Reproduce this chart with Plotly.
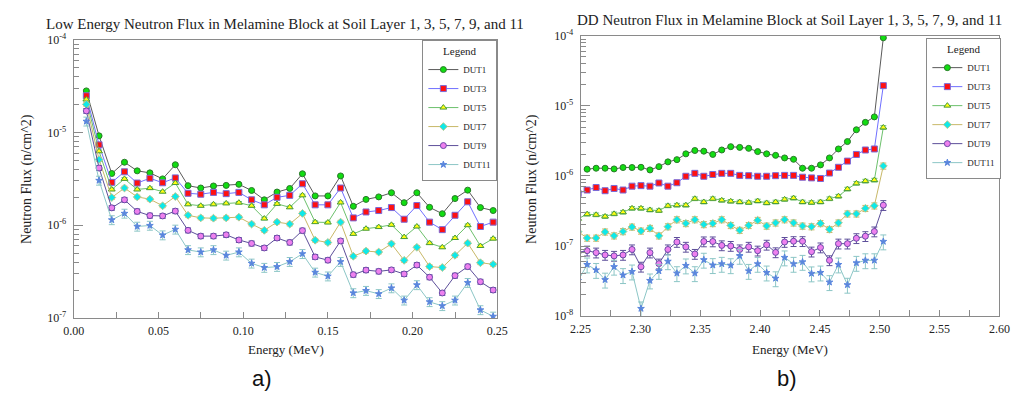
import plotly.graph_objects as go

# ---------------- data ----------------
series_names = ["DUT1", "DUT3", "DUT5", "DUT7", "DUT9", "DUT11"]

low_energy = [0.0075, 0.015, 0.0225, 0.03, 0.0375, 0.045, 0.0525, 0.06, 0.0675, 0.075,
              0.0825, 0.09, 0.0975, 0.105, 0.1125, 0.12, 0.1275, 0.135, 0.1425, 0.15,
              0.1575, 0.165, 0.1725, 0.18, 0.1875, 0.195, 0.2025, 0.21, 0.2175, 0.225,
              0.2325, 0.24, 0.2475]

low_dut1 = [2.81e-5, 9.2e-6, 3.61e-6, 4.78e-6, 3.86e-6, 3.67e-6, 3.16e-6, 4.49e-6, 2.67e-6, 2.52e-6,
            2.65e-6, 2.69e-6, 2.76e-6, 2.37e-6, 1.88e-6, 2.28e-6, 2.49e-6, 3.59e-6, 2.07e-6, 2.07e-6,
            3.40e-6, 1.60e-6, 1.90e-6, 2.02e-6, 2.24e-6, 1.75e-6, 2.24e-6, 1.56e-6, 1.33e-6, 1.94e-6,
            2.39e-6, 1.55e-6, 1.44e-6]
low_dut3 = [2.49e-5, 7.36e-6, 2.90e-6, 3.77e-6, 2.85e-6, 3.21e-6, 2.87e-6, 3.24e-6, 2.21e-6, 2.16e-6,
            2.26e-6, 2.19e-6, 2.26e-6, 1.88e-6, 1.66e-6, 2.00e-6, 2.10e-6, 2.80e-6, 1.66e-6, 1.66e-6,
            2.52e-6, 1.20e-6, 1.39e-6, 1.44e-6, 1.55e-6, 1.16e-6, 1.63e-6, 1.08e-6, 8.96e-7, 1.28e-6,
            1.79e-6, 9.69e-7, 1.08e-6]
low_dut5 = [2.27e-5, 6.27e-6, 2.43e-6, 3.16e-6, 2.43e-6, 2.51e-6, 2.30e-6, 2.85e-6, 1.68e-6, 1.62e-6,
            1.68e-6, 1.72e-6, 1.75e-6, 1.62e-6, 1.18e-6, 1.70e-6, 1.56e-6, 2.10e-6, 1.08e-6, 1.07e-6,
            1.76e-6, 8.07e-7, 9.18e-7, 9.55e-7, 1.01e-6, 7.45e-7, 9.69e-7, 6.41e-7, 5.78e-7, 7.28e-7,
            1.00e-6, 5.97e-7, 7.17e-7]
low_dut7 = [2.01e-5, 5.11e-6, 1.99e-6, 2.52e-6, 2.02e-6, 1.91e-6, 1.62e-6, 2.04e-6, 1.28e-6, 1.20e-6,
            1.19e-6, 1.20e-6, 1.22e-6, 1.03e-6, 8.81e-7, 1.08e-6, 1.03e-6, 1.34e-6, 6.89e-7, 6.51e-7,
            1.08e-6, 4.63e-7, 5.26e-7, 5.14e-7, 6.30e-7, 4.18e-7, 5.78e-7, 3.58e-7, 3.50e-7, 4.74e-7,
            6.41e-7, 3.94e-7, 3.79e-7]
low_dut9 = [1.71e-5, 4.14e-6, 1.54e-6, 1.88e-6, 1.41e-6, 1.27e-6, 1.26e-6, 1.42e-6, 8.81e-7, 7.63e-7,
            7.63e-7, 7.88e-7, 6.93e-7, 6.36e-7, 5.69e-7, 7.28e-7, 6.52e-7, 8.75e-7, 4.55e-7, 4.20e-7,
            6.77e-7, 2.93e-7, 3.28e-7, 3.18e-7, 3.30e-7, 2.98e-7, 3.72e-7, 2.75e-7, 1.86e-7, 2.86e-7,
            3.58e-7, 2.46e-7, 2.00e-7]
low_dut11 = [1.32e-5, 3.04e-6, 1.14e-6, 1.34e-6, 9.70e-7, 9.93e-7, 7.82e-7, 9.02e-7, 5.42e-7, 5.13e-7,
             5.42e-7, 4.73e-7, 5.13e-7, 3.88e-7, 3.49e-7, 3.57e-7, 4.04e-7, 4.92e-7, 3.10e-7, 2.82e-7,
             4.04e-7, 1.86e-7, 1.97e-7, 1.82e-7, 2.10e-7, 1.55e-7, 2.27e-7, 1.49e-7, 1.35e-7, 1.55e-7,
             2.40e-7, 1.22e-7, 1.04e-7]

dd_energy = [2.2480, 2.2555, 2.2630, 2.2705, 2.2780, 2.2855, 2.2930, 2.3005, 2.3080, 2.3155,
             2.3230, 2.3305, 2.3380, 2.3455, 2.3530, 2.3605, 2.3680, 2.3755, 2.3830, 2.3905,
             2.3980, 2.4055, 2.4130, 2.4205, 2.4280, 2.4355, 2.4430, 2.4505, 2.4580, 2.4655,
             2.4730, 2.4805, 2.4880, 2.4955, 2.5030]

dd_dut1 = [None, 1.25e-6, 1.29e-6, 1.29e-6, 1.26e-6, 1.32e-6, 1.32e-6, 1.33e-6, 1.22e-6, 1.36e-6,
           1.59e-6, 1.71e-6, 2.07e-6, 2.31e-6, 2.26e-6, 2.03e-6, 2.35e-6, 2.62e-6, 2.56e-6, 2.48e-6,
           2.23e-6, 2.07e-6, 1.97e-6, 1.81e-6, 1.73e-6, 1.29e-6, 1.29e-6, 1.44e-6, 1.81e-6, 2.43e-6,
           3.10e-6, 4.57e-6, 5.83e-6, 6.98e-6, 9.4e-5]
dd_dut3 = [5.6e-7, 6.30e-7, 6.84e-7, 6.16e-7, 6.63e-7, 6.30e-7, 7.15e-7, 7.28e-7, 7.15e-7, 7.94e-7,
           7.15e-7, 8.01e-7, 9.90e-7, 1.09e-6, 9.90e-7, 1.05e-6, 1.09e-6, 1.09e-6, 1.02e-6, 1.01e-6,
           9.90e-7, 9.90e-7, 1.01e-6, 1.02e-6, 1.02e-6, 9.60e-7, 9.39e-7, 9.21e-7, 1.10e-6, 1.33e-6,
           1.63e-6, 2.03e-6, 2.35e-6, 2.43e-6, 1.95e-5]
dd_dut5 = [2.45e-7, 2.85e-7, 2.79e-7, 2.64e-7, 2.88e-7, 3.04e-7, 3.45e-7, 3.45e-7, 3.27e-7, 3.20e-7,
           3.75e-7, 3.83e-7, 3.83e-7, 4.73e-7, 4.25e-7, 4.73e-7, 4.49e-7, 4.35e-7, 4.25e-7, 4.17e-7,
           4.39e-7, 4.12e-7, 4.25e-7, 4.63e-7, 4.83e-7, 4.25e-7, 4.17e-7, 4.25e-7, 4.73e-7, 5.14e-7,
           6.50e-7, 7.85e-7, 8.45e-7, 8.73e-7, 4.93e-6]
dd_dut7 = [1.6e-7, 1.30e-7, 1.30e-7, 1.59e-7, 1.40e-7, 1.61e-7, 1.87e-7, 1.64e-7, 1.79e-7, 1.40e-7,
           1.89e-7, 2.38e-7, 2.10e-7, 2.38e-7, 2.03e-7, 2.10e-7, 2.38e-7, 1.97e-7, 1.68e-7, 1.97e-7,
           2.33e-7, 1.93e-7, 2.14e-7, 2.38e-7, 2.14e-7, 1.93e-7, 1.89e-7, 2.10e-7, 1.73e-7, 2.14e-7,
           2.88e-7, 2.88e-7, 3.45e-7, 3.75e-7, 1.39e-6]
dd_dut9 = [8.1e-8, 8.57e-8, 8.04e-8, 7.45e-8, 7.22e-8, 7.45e-8, 8.92e-8, 5.05e-8, 8.04e-8, 5.60e-8,
           8.92e-8, 1.14e-7, 9.72e-8, 7.69e-8, 1.16e-7, 1.16e-7, 1.02e-7, 1.00e-7, 8.92e-8, 9.72e-8,
           8.57e-8, 1.04e-7, 8.11e-8, 1.14e-7, 1.17e-7, 1.17e-7, 8.30e-8, 9.51e-8, 6.24e-8, 1.08e-7,
           1.08e-7, 1.29e-7, 1.38e-7, 1.61e-7, 3.83e-7]
dd_dut11 = [3.2e-8, 5.43e-8, 4.54e-8, 3.3e-8, 5.05e-8, 3.83e-8, 4.31e-8, 1.28e-8, 3.21e-8, 4.40e-8,
            6.04e-8, 4.08e-8, 5.26e-8, 4.08e-8, 6.35e-8, 5.32e-8, 5.55e-8, 5.3e-8, 7.22e-8, 4.40e-8,
            5.55e-8, 4.17e-8, 3.45e-8, 6.85e-8, 5.55e-8, 5.92e-8, 4.05e-8, 4.17e-8, 3.04e-8, 5.43e-8,
            2.79e-8, 5.73e-8, 6.24e-8, 6.24e-8, 1.16e-7]

# relative statistical uncertainty (percent) per series
low_err_pct = [2, 2.5, 3, 4.5, 6, 11]
dd_err_pct = [2, 3, 6, 10, 16, 24]

y_tick_vals_low = [1e-7, 1e-6, 1e-5, 1e-4]
y_tick_vals_dd = [1e-8, 1e-7, 1e-6, 1e-5, 1e-4]
y_tick_text_low = ["10<sup>-7</sup>", "10<sup>-6</sup>", "10<sup>-5</sup>", "10<sup>-4</sup>"]
y_tick_text_dd = ["10<sup>-8</sup>", "10<sup>-7</sup>", "10<sup>-6</sup>", "10<sup>-5</sup>", "10<sup>-4</sup>"]
x_tick_vals_low = [0.0, 0.05, 0.10, 0.15, 0.20, 0.25]
x_tick_text_low = ["0.00", "0.05", "0.10", "0.15", "0.20", "0.25"]
x_tick_vals_dd = [2.25, 2.30, 2.35, 2.40, 2.45, 2.50, 2.55, 2.60]
x_tick_text_dd = ["2.25", "2.30", "2.35", "2.40", "2.45", "2.50", "2.55", "2.60"]

# ---------------- styles ----------------
SERIF = "Liberation Serif"
styles = [
    dict(line="#5a5a5a", fill="#11dd11", edge="#2a7a2a", symbol="circle", size=6),
    dict(line="#6f6fff", fill="#ff1010", edge="#7a6ad8", symbol="square", size=6),
    dict(line="#6cc06c", fill="#ffff10", edge="#4a9a3a", symbol="triangle-up", size=6),
    dict(line="#c8b868", fill="#10e8e8", edge="#b8c890", symbol="diamond", size=6),
    dict(line="#5d4f9a", fill="#ee80ee", edge="#6a4aa8", symbol="circle", size=6),
    dict(line="#8cc6c6", fill="#5a86dd", edge="#5a86dd", symbol="star", size=5),
]

low_series = [low_dut1, low_dut3, low_dut5, low_dut7, low_dut9, low_dut11]
dd_series = [dd_dut1, dd_dut3, dd_dut5, dd_dut7, dd_dut9, dd_dut11]

fig = go.Figure()

for name, ys, st, ep in zip(series_names, low_series, styles, low_err_pct):
    fig.add_trace(go.Scatter(
        x=low_energy, y=ys, name=name, mode="lines+markers",
        xaxis="x", yaxis="y", legend="legend",
        line=dict(color=st["line"], width=1),
        marker=dict(symbol=st["symbol"], size=st["size"], color=st["fill"],
                    line=dict(color=st["edge"], width=1)),
        error_y=dict(type="percent", value=ep, color=st["line"], thickness=1, width=3),
        cliponaxis=True,
    ))

for name, ys, st, ep in zip(series_names, dd_series, styles, dd_err_pct):
    fig.add_trace(go.Scatter(
        x=dd_energy, y=ys, name=name, mode="lines+markers",
        xaxis="x2", yaxis="y2", legend="legend2",
        line=dict(color=st["line"], width=1),
        marker=dict(symbol=st["symbol"], size=st["size"], color=st["fill"],
                    line=dict(color=st["edge"], width=1)),
        error_y=dict(type="percent", value=ep, color=st["line"], thickness=1, width=3),
        cliponaxis=True,
    ))

W, H = 1029, 401
axcol = "#8a8a8a"
tickfont = dict(family=SERIF, size=12, color="#222")

def xaxis_common(domain, anchor, rng, tv, tt, minor_vals):
    return dict(domain=domain, anchor=anchor, range=rng, tickmode="array", tickvals=tv, ticktext=tt,
                showline=True, linecolor=axcol, linewidth=1, mirror=True,
                ticks="inside", ticklen=6, tickcolor=axcol, showgrid=False, zeroline=False,
                tickfont=tickfont, ticklabelstandoff=2,
                minor=dict(tickvals=minor_vals, ticks="inside", ticklen=6, tickcolor=axcol, showgrid=False))

def yaxis_common(domain, anchor, rng, tv, tt, minor_vals):
    return dict(domain=domain, anchor=anchor, type="log", range=rng, tickmode="array",
                tickvals=tv, ticktext=tt,
                showline=True, linecolor=axcol, linewidth=1, mirror=True,
                ticks="inside", ticklen=9, tickcolor=axcol, showgrid=False, zeroline=False,
                tickfont=tickfont, ticklabelstandoff=4,
                minor=dict(tickvals=minor_vals, ticks="inside", ticklen=5, tickcolor=axcol, showgrid=False))

minor_low_x = [0.025, 0.075, 0.125, 0.175, 0.225]
minor_dd_x = [2.275, 2.325, 2.375, 2.425, 2.475, 2.525, 2.575]
minor_low_y = [m * 10.0 ** e for e in (-7, -6, -5) for m in range(2, 10)]
minor_dd_y = [m * 10.0 ** e for e in (-8, -7, -6, -5) for m in range(2, 10)]

legend_common = dict(xanchor="right", yanchor="top",
                     bgcolor="white", bordercolor=axcol, borderwidth=1,
                     font=dict(family=SERIF, size=9, color="#222"),
                     title=dict(text="Legend", side="top center",
                                font=dict(family=SERIF, size=11, color="#222")),
                     itemwidth=30, tracegroupgap=0)

fig.update_layout(
    width=W, height=H,
    margin=dict(l=0, r=0, t=0, b=0),
    paper_bgcolor="white", plot_bgcolor="white",
    showlegend=True,
    xaxis=xaxis_common([64 / W, 497 / W], "y", [0, 0.25], x_tick_vals_low, x_tick_text_low, minor_low_x),
    yaxis=yaxis_common([1 - 322 / H, 1 - 33 / H], "x", [-7, -4], y_tick_vals_low, y_tick_text_low, minor_low_y),
    xaxis2=xaxis_common([582 / W, 1010 / W], "y2", [2.25, 2.60], x_tick_vals_dd, x_tick_text_dd, minor_dd_x),
    yaxis2=yaxis_common([1 - 320 / H, 1 - 29 / H], "x2", [-8, -4], y_tick_vals_dd, y_tick_text_dd, minor_dd_y),
    legend=dict(x=497 / W, y=1 - 33 / H, **legend_common),
    legend2=dict(x=1012 / W, y=1 - 31 / H, **legend_common),
)

annos = [
    dict(text="Low Energy Neutron Flux in Melamine Block at Soil Layer 1, 3, 5, 7, 9, and 11",
         x=280 / W, y=1 - 17 / H, size=15),
    dict(text="DD Neutron Flux in Melamine Block at Soil Layer 1, 3, 5, 7, 9, and 11",
         x=795 / W, y=1 - 12 / H, size=15),
    dict(text="Energy (MeV)", x=281 / W, y=1 - 355 / H, size=13),
    dict(text="Energy (MeV)", x=796 / W, y=1 - 355 / H, size=13),
]
for a in annos:
    fig.add_annotation(text=a["text"], x=a["x"], y=a["y"], xref="paper", yref="paper",
                       xanchor="center", yanchor="middle", showarrow=False,
                       font=dict(family=SERIF, size=a["size"], color="#222"))

for xx in (17, 533):
    fig.add_annotation(text="Neutron Flux (n/cm^2)", x=xx / W, y=1 - 178 / H, xref="paper", yref="paper",
                       xanchor="center", yanchor="middle", showarrow=False, textangle=-90,
                       font=dict(family=SERIF, size=14, color="#222"))

for txt, xx in (("a)", 256), ("b)", 793)):
    fig.add_annotation(text=txt, x=xx / W, y=1 - 385 / H, xref="paper", yref="paper",
                       xanchor="center", yanchor="middle", showarrow=False,
                       font=dict(family="Liberation Sans", size=22, color="#111"))

fig.write_html("out.html")
